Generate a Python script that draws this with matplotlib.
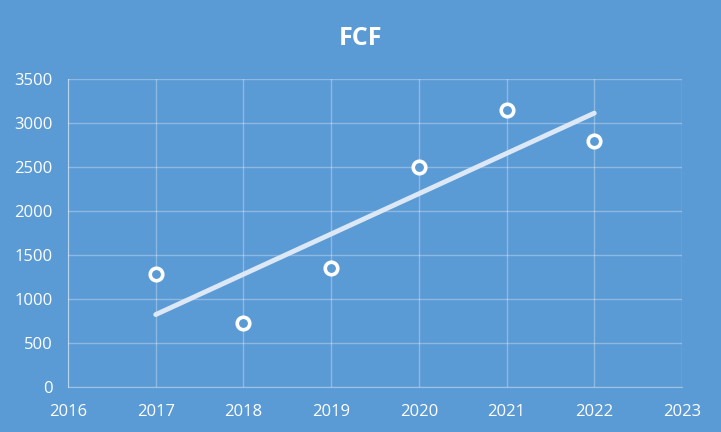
import numpy as np
import matplotlib
matplotlib.use("Agg")
import matplotlib.pyplot as plt

plt.rcParams['font.family'] = ['Open Sans', 'DejaVu Sans']

years = [2017, 2018, 2019, 2020, 2021, 2022]
fcf = [1280, 725, 1350, 2500, 3150, 2800]

bg = '#5B9BD5'
fig = plt.figure(figsize=(7.21, 4.32), dpi=100, facecolor=bg)
ax = fig.add_axes([0.0943, 0.1042, 0.8516, 0.7129], facecolor=bg)

# linear trendline
k, b = np.polyfit(years, fcf, 1)
tx = np.array([years[0], years[-1]])
ax.plot(tx, k * tx + b, color='#DCE8F5', lw=3.5, solid_capstyle='round', zorder=2)

ax.plot(years, fcf, 'o', ms=9, mfc=bg, mec='white', mew=2.6, zorder=3)

ax.set_xlim(2016, 2023)
ax.set_ylim(0, 3500)
ax.set_xticks(range(2016, 2024))
ax.set_yticks(range(0, 3501, 500))
ax.grid(True, color='white', alpha=0.3, lw=1)
ax.set_axisbelow(True)
for s in ['top', 'right']:
    ax.spines[s].set_visible(False)
for s in ['left', 'bottom']:
    ax.spines[s].set_color((1, 1, 1, 0.4))
ax.tick_params(colors='white', labelsize=12, length=0)
ax.tick_params(axis='y', pad=11)
ax.tick_params(axis='x', pad=12)

fig.text(0.5, 0.912, 'FCF', color='white', fontsize=18, fontweight='bold', ha='center', va='center')

fig.savefig('out.png', facecolor=bg)
